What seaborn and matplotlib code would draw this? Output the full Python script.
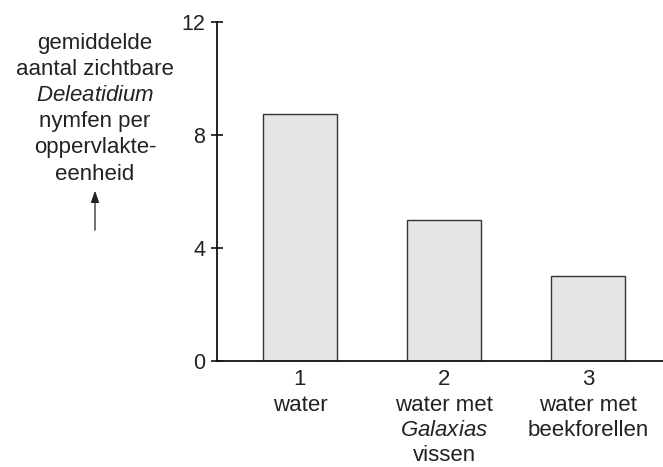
import matplotlib
matplotlib.use("Agg")
import matplotlib.pyplot as plt
import seaborn as sns
import pandas as pd

# data
groups = ["1", "2", "3"]
values = [8.75, 5.0, 3.0]
group_labels = ["1\nwater",
                "2\nwater met\n$Galaxias$\nvissen",
                "3\nwater met\nbeekforellen"]
y_ticks = [0, 4, 8, 12]
y_title = "gemiddelde\naantal zichtbare\n$Deleatidium$\nnymfen per\noppervlakte-\neenheid"

sns.set_theme(style="white")
plt.rcParams["font.family"] = ["Liberation Sans", "DejaVu Sans"]
plt.rcParams["mathtext.fontset"] = "custom"
plt.rcParams["mathtext.rm"] = "Liberation Sans"
plt.rcParams["mathtext.it"] = "Liberation Sans:italic"
plt.rcParams["text.color"] = "#222222"

df = pd.DataFrame({"groep": groups, "aantal": values})

fig = plt.figure(figsize=(6.63, 4.67), dpi=100)
ax = fig.add_axes([217/663, 106/467, 446/663, 339/467])

sns.barplot(data=df, x="groep", y="aantal", color="#e6e6e6",
            edgecolor="#333333", linewidth=1.0, width=0.514,
            saturation=1, ax=ax)

ax.set_xlim(-0.576, 2.52)
ax.set_ylim(0, 12)
ax.set_yticks(y_ticks)
ax.set_yticklabels([str(t) for t in y_ticks])
ax.set_xticks(range(len(groups)))
ax.set_xticklabels(group_labels, fontsize=16, color="#222222",
                   linespacing=1.27)
ax.set_xlabel("")
ax.set_ylabel("")

for s in ["top", "right"]:
    ax.spines[s].set_visible(False)
for s in ["left", "bottom"]:
    ax.spines[s].set_color("#111111")
    ax.spines[s].set_linewidth(1.3)

ax.tick_params(axis="y", left=True, direction="inout", length=8.6, width=1.2,
               color="#111111", labelsize=15.5, labelcolor="#222222", pad=4)
ax.tick_params(axis="x", length=0, pad=6)

fig.text(95/663, 1 - 33/467, y_title, ha="center", va="top",
         fontsize=16, linespacing=1.32, color="#222222")
fig.add_artist(matplotlib.patches.FancyArrowPatch(
    (95/663, 1 - 233/467), (95/663, 1 - 188/467),
    transform=fig.transFigure, arrowstyle="-|>,head_length=7,head_width=2.5",
    color="#222222", lw=0.9, mutation_scale=1))

fig.savefig("out.png", dpi=100)
